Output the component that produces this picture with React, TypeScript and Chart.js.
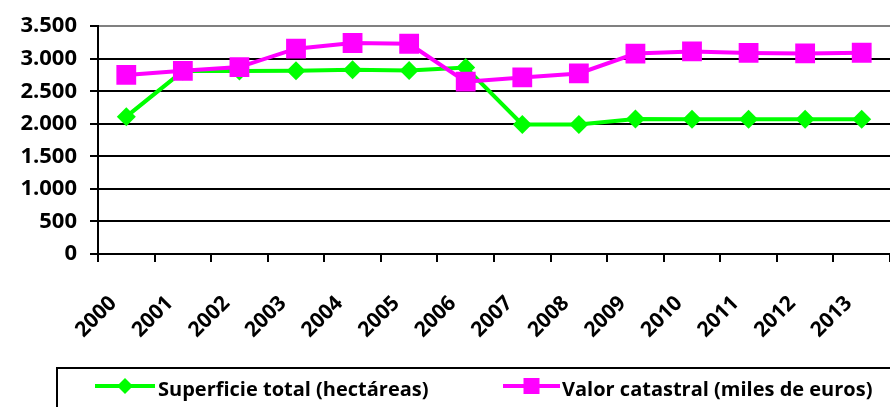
import React, { useEffect, useRef } from "react";
import { Chart, registerables } from "chart.js";

Chart.register(...registerables);

const years = ["2000", "2001", "2002", "2003", "2004", "2005", "2006", "2007", "2008", "2009", "2010", "2011", "2012", "2013"];
const superficieTotal = [2110, 2810, 2810, 2815, 2830, 2820, 2865, 1990, 1990, 2074, 2072, 2072, 2070, 2072];
const valorCatastral = [2752, 2815, 2872, 3155, 3242, 3230, 2648, 2713, 2774, 3079, 3113, 3089, 3082, 3092];
const seriesLabels = ["Superficie total (hectáreas)", "Valor catastral (miles de euros)"];
const yMin = 0;
const yMax = 3500;
const yStep = 500;

const GREEN = "#00FF00";
const MAGENTA = "#FF00FF";
const FONT = "'Open Sans', 'DejaVu Sans', sans-serif";

function formatThousands(v: number): string {
  return String(Math.round(v)).replace(/\B(?=(\d{3})+(?!\d))/g, ".");
}

const boxLegend = {
  id: "boxLegend",
  afterDraw(chart: any) {
    const ctx = chart.ctx as CanvasRenderingContext2D;
    ctx.save();
    ctx.strokeStyle = "#000";
    ctx.lineWidth = 2;
    ctx.strokeRect(57, 368, 900, 100);
    const slots = [
      { x0: 95, x1: 155, textX: 158 },
      { x0: 503, x1: 560, textX: 562 },
    ];
    const y = 386;
    chart.data.datasets.forEach((ds: any, i: number) => {
      const s = slots[i];
      if (!s) return;
      ctx.strokeStyle = ds.borderColor;
      ctx.lineWidth = 4;
      ctx.beginPath();
      ctx.moveTo(s.x0, y);
      ctx.lineTo(s.x1, y);
      ctx.stroke();
      const cx = (s.x0 + s.x1) / 2;
      ctx.fillStyle = ds.borderColor;
      ctx.beginPath();
      if (ds.pointStyle === "rectRot") {
        const r = 8;
        ctx.moveTo(cx, y - r);
        ctx.lineTo(cx + r, y);
        ctx.lineTo(cx, y + r);
        ctx.lineTo(cx - r, y);
        ctx.closePath();
      } else {
        const h = 8;
        ctx.rect(cx - h, y - h, 2 * h, 2 * h);
      }
      ctx.fill();
      ctx.fillStyle = "#000";
      ctx.font = `bold 20px ${FONT}`;
      ctx.textBaseline = "middle";
      ctx.textAlign = "left";
      ctx.fillText(ds.label, s.textX, y + 4);
    });
    ctx.restore();
  },
};

export default function App() {
  const canvasRef = useRef<HTMLCanvasElement | null>(null);

  useEffect(() => {
    if (!canvasRef.current) return;
    const chart = new Chart(canvasRef.current, {
      type: "line",
      data: {
        labels: years,
        datasets: [
          {
            label: seriesLabels[0],
            data: superficieTotal,
            borderColor: GREEN,
            backgroundColor: GREEN,
            borderWidth: 4,
            pointStyle: "rectRot",
            pointRadius: 9.5,
            pointBorderWidth: 0,
            pointBackgroundColor: GREEN,
            tension: 0,
            order: 2,
          },
          {
            label: seriesLabels[1],
            data: valorCatastral,
            borderColor: MAGENTA,
            backgroundColor: MAGENTA,
            borderWidth: 4,
            pointStyle: "rect",
            pointRadius: 14,
            pointBorderWidth: 0,
            pointBackgroundColor: MAGENTA,
            tension: 0,
            order: 1,
          },
        ],
      },
      options: {
        responsive: false,
        animation: false,
        devicePixelRatio: 1,
        layout: { autoPadding: false, padding: { top: 24, left: 0, right: 0, bottom: 0 } },
        plugins: {
          legend: { display: false },
          tooltip: { enabled: false },
        },
        scales: {
          x: {
            type: "category",
            offset: true,
            grid: {
              offset: true,
              drawOnChartArea: false,
              drawTicks: true,
              tickLength: 8,
              tickWidth: 2,
              tickColor: "#000",
              color: "#000",
              lineWidth: 2,
            },
            border: { display: true, color: "#000", width: 2 },
            ticks: {
              autoSkip: false,
              maxRotation: 45,
              minRotation: 45,
              padding: 29,
              labelOffset: -13,
              color: "#000",
              font: { family: FONT, size: 21, weight: "bold" },
            },
            afterFit: (scale: any) => {
              scale.height = 153;
              scale.paddingLeft = 0;
              scale.paddingRight = 0;
            },
          },
          y: {
            min: yMin,
            max: yMax,
            ticks: {
              stepSize: yStep,
              padding: 13,
              color: "#000",
              font: { family: FONT, size: 22, weight: "bold" },
              callback: (v: any) => formatThousands(Number(v)),
            },
            grid: {
              drawOnChartArea: true,
              drawTicks: true,
              tickLength: 8,
              lineWidth: 2,
              color: (c: any) => (c.tick && c.tick.value === yMax ? "#808080" : "#000"),
              tickColor: "#000",
              tickWidth: 2,
            },
            border: { display: true, color: "#000", width: 2 },
            afterFit: (scale: any) => {
              scale.width = 98;
            },
          },
        },
      },
      plugins: [boxLegend],
    });
    return () => chart.destroy();
  }, []);

  return (
    <div style={{ position: "fixed", left: 0, top: 0, width: 890, height: 407, background: "#fff" }}>
      <canvas ref={canvasRef} width={890} height={407} style={{ display: "block" }} />
    </div>
  );
}
